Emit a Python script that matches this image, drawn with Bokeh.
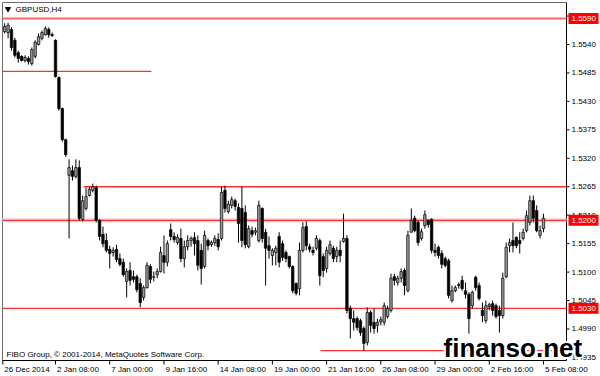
from bokeh.plotting import figure
from bokeh.core.properties import value
from bokeh.embed import file_html
from bokeh.resources import INLINE

# ---- data: GBPUSD H4 candles (bar index 0..159) ----
opens = [1.5565,1.5563,1.5569,1.5548,1.5524,1.5517,1.5509,1.5513,1.5503,1.5517,
         1.5540,1.5552,1.5559,1.5569,1.5559,1.5548,1.5476,1.5416,1.5356,1.5287,
         1.5296,1.5285,1.5302,1.5202,1.5223,1.5248,1.5258,1.5263,1.5200,1.5173,
         1.5161,1.5144,1.5138,1.5144,1.5126,1.5119,1.5082,1.5103,1.5091,1.5091,
         1.5078,1.5051,1.5070,1.5111,1.5090,1.5095,1.5101,1.5132,1.5119,1.5182,
         1.5169,1.5157,1.5165,1.5126,1.5149,1.5161,1.5167,1.5161,1.5142,1.5111,
         1.5161,1.5153,1.5157,1.5163,1.5165,1.5258,1.5217,1.5229,1.5238,1.5225,
         1.5223,1.5215,1.5149,1.5180,1.5177,1.5161,1.5223,1.5177,1.5151,1.5132,
         1.5138,1.5169,1.5155,1.5138,1.5130,1.5111,1.5078,1.5068,1.5142,1.5188,
         1.5149,1.5142,1.5146,1.5161,1.5130,1.5107,1.5136,1.5146,1.5130,1.5142,
         1.5159,1.5165,1.5030,1.5010,1.5010,1.5006,1.4991,1.4964,1.5022,1.5003,
         1.4997,1.5004,1.5003,1.5014,1.5026,1.5091,1.5080,1.5088,1.5103,1.5064,
         1.5177,1.5204,1.5196,1.5165,1.5190,1.5200,1.5202,1.5142,1.5148,1.5136,
         1.5126,1.5122,1.5045,1.5064,1.5074,1.5084,1.5064,1.5057,1.5035,1.5090,
         1.5074,1.5026,1.5006,1.5033,1.5039,1.5035,1.5026,1.5016,1.5091,1.5151,
         1.5161,1.5167,1.5161,1.5165,1.5180,1.5196,1.5238,1.5219,1.5171,1.5184]
highs = [1.5581,1.5582,1.5573,1.5553,1.5528,1.5519,1.5519,1.5517,1.5534,1.5548,
         1.5561,1.5567,1.5575,1.5573,1.5563,1.5550,1.5478,1.5418,1.5358,1.5318,
         1.5306,1.5318,1.5316,1.5248,1.5263,1.5265,1.5271,1.5267,1.5202,1.5188,
         1.5175,1.5151,1.5148,1.5153,1.5136,1.5126,1.5107,1.5119,1.5103,1.5095,
         1.5088,1.5074,1.5119,1.5115,1.5101,1.5107,1.5149,1.5171,1.5161,1.5194,
         1.5177,1.5173,1.5184,1.5161,1.5171,1.5169,1.5177,1.5171,1.5155,1.5180,
         1.5165,1.5161,1.5171,1.5175,1.5265,1.5267,1.5238,1.5246,1.5242,1.5233,
         1.5265,1.5229,1.5190,1.5188,1.5186,1.5238,1.5225,1.5184,1.5169,1.5146,
         1.5151,1.5177,1.5161,1.5142,1.5132,1.5113,1.5080,1.5157,1.5196,1.5198,
         1.5155,1.5149,1.5171,1.5165,1.5136,1.5149,1.5161,1.5151,1.5149,1.5161,
         1.5213,1.5171,1.5035,1.5026,1.5014,1.5010,1.4995,1.5032,1.5026,1.5030,
         1.5010,1.5014,1.5041,1.5035,1.5097,1.5097,1.5093,1.5107,1.5107,1.5180,
         1.5223,1.5209,1.5200,1.5184,1.5219,1.5202,1.5204,1.5155,1.5151,1.5142,
         1.5130,1.5126,1.5074,1.5074,1.5080,1.5093,1.5080,1.5061,1.5064,1.5093,
         1.5080,1.5041,1.5045,1.5041,1.5045,1.5039,1.5035,1.5099,1.5157,1.5165,
         1.5196,1.5169,1.5177,1.5184,1.5219,1.5248,1.5248,1.5229,1.5190,1.5213]
lows = [1.5561,1.5552,1.5528,1.5515,1.5505,1.5507,1.5505,1.5501,1.5499,1.5513,
        1.5538,1.5548,1.5557,1.5553,1.5555,1.5476,1.5412,1.5352,1.5323,1.5165,
        1.5277,1.5281,1.5200,1.5198,1.5219,1.5246,1.5254,1.5196,1.5161,1.5148,
        1.5138,1.5107,1.5130,1.5119,1.5111,1.5091,1.5051,1.5074,1.5080,1.5061,
        1.5032,1.5045,1.5068,1.5078,1.5082,1.5088,1.5099,1.5097,1.5111,1.5161,
        1.5157,1.5153,1.5119,1.5109,1.5142,1.5149,1.5132,1.5103,1.5076,1.5107,
        1.5142,1.5149,1.5151,1.5142,1.5161,1.5215,1.5213,1.5223,1.5219,1.5157,
        1.5148,1.5146,1.5146,1.5167,1.5171,1.5157,1.5157,1.5074,1.5126,1.5113,
        1.5113,1.5109,1.5122,1.5119,1.5107,1.5059,1.5055,1.5055,1.5138,1.5142,
        1.5138,1.5132,1.5142,1.5074,1.5090,1.5099,1.5132,1.5119,1.5119,1.5119,
        1.5157,1.5020,1.4972,1.4987,1.4987,1.4977,1.4948,1.4958,1.4983,1.4981,
        1.4983,1.4997,1.4997,1.5010,1.5022,1.5074,1.5074,1.5080,1.5055,1.5061,
        1.5177,1.5177,1.5151,1.5161,1.5184,1.5186,1.5136,1.5130,1.5126,1.5107,
        1.5109,1.5049,1.5041,1.5061,1.5068,1.5064,1.5049,1.4981,1.5030,1.5064,
        1.5045,1.5003,1.5001,1.5026,1.5016,1.5010,1.4983,1.5010,1.5088,1.5138,
        1.5138,1.5146,1.5136,1.5161,1.5177,1.5190,1.5196,1.5177,1.5165,1.5177]
closes = [1.5575,1.5577,1.5534,1.5519,1.5513,1.5509,1.5515,1.5507,1.5530,1.5544,
          1.5555,1.5563,1.5571,1.5559,1.5557,1.5478,1.5416,1.5356,1.5327,1.5302,
          1.5285,1.5302,1.5204,1.5238,1.5246,1.5260,1.5265,1.5200,1.5169,1.5155,
          1.5142,1.5136,1.5142,1.5124,1.5115,1.5095,1.5101,1.5084,1.5086,1.5066,
          1.5041,1.5070,1.5113,1.5086,1.5091,1.5101,1.5138,1.5119,1.5155,1.5169,
          1.5163,1.5167,1.5126,1.5149,1.5161,1.5165,1.5155,1.5113,1.5107,1.5171,
          1.5151,1.5157,1.5165,1.5149,1.5254,1.5223,1.5231,1.5240,1.5227,1.5194,
          1.5161,1.5153,1.5184,1.5173,1.5180,1.5229,1.5165,1.5146,1.5142,1.5142,
          1.5146,1.5119,1.5128,1.5126,1.5111,1.5064,1.5059,1.5142,1.5186,1.5151,
          1.5144,1.5138,1.5165,1.5093,1.5103,1.5142,1.5153,1.5126,1.5142,1.5132,
          1.5165,1.5026,1.5010,1.5003,1.4993,1.4983,1.4962,1.5022,1.4997,1.4991,
          1.5003,1.5008,1.5035,1.5030,1.5088,1.5084,1.5088,1.5101,1.5074,1.5171,
          1.5200,1.5180,1.5157,1.5178,1.5211,1.5192,1.5142,1.5138,1.5132,1.5115,
          1.5113,1.5055,1.5064,1.5070,1.5076,1.5068,1.5057,1.5010,1.5061,1.5070,
          1.5049,1.5016,1.5035,1.5037,1.5026,1.5014,1.5016,1.5088,1.5148,1.5157,
          1.5151,1.5151,1.5155,1.5177,1.5209,1.5238,1.5204,1.5180,1.5180,1.5204]

# time axis labels (bar index of each label)
time_tick_bars = [-0.55, 15, 31, 47, 63, 79, 95, 111, 127, 143, 159]
time_tick_labels = ["26 Dec 2014", "2 Jan 08:00", "7 Jan 00:00", "9 Jan 16:00",
                    "14 Jan 08:00", "19 Jan 00:00", "21 Jan 16:00", "26 Jan 08:00",
                    "29 Jan 00:00", "2 Feb 16:00", "5 Feb 08:00"]
price_ticks = [1.4935, 1.4990, 1.5045, 1.5100, 1.5155, 1.5210, 1.5265,
               1.5320, 1.5375, 1.5430, 1.5485, 1.5540, 1.5595]

# horizontal levels drawn on the chart (price, first bar, last bar)
level_prices = [1.5590, 1.5488, 1.5265, 1.5200, 1.5030, 1.4948]
level_start_bar = [-0.65, -0.65, 23.3, -0.65, -0.65, 93.2]
level_end_bar = [165.8, 43.3, 165.8, 165.8, 165.8, 165.8]
boxed_levels = [1.5590, 1.5200, 1.5030]

# chart window (price pane) in data units and the pixel sizes of the pane
X0, X1 = -0.65, 165.8
Y0, Y1 = 1.49291, 1.56211
PANE_W, PANE_H = 564, 358
PXX = (X1 - X0) / PANE_W
PXY = (Y1 - Y0) / PANE_H
FONT = value("Liberation Sans")

p = figure(width=600, height=376,
           x_range=(X0 - 2 * PXX, X1 + 34 * PXX),
           y_range=(Y0 - 16 * PXY, Y1 + 2 * PXY),
           output_backend="svg", toolbar_location=None,
           x_axis_location=None, y_axis_location=None,
           min_border=0, min_border_left=0, min_border_right=0,
           min_border_top=0, min_border_bottom=0)
p.background_fill_color = "white"
p.border_fill_color = "white"
p.outline_line_color = None
for g in p.grid:
    g.visible = False

# pane frame: left/top border grey, price & time axis lines black
p.segment(x0=[X0, X0], y0=[Y0, Y1], x1=[X0, X1], y1=[Y1, Y1], line_color="#6a6a6a", line_width=1)
p.segment(x0=[X1, X0], y0=[Y1, Y0], x1=[X1, X1], y1=[Y0, Y0], line_color="black", line_width=1)

# levels
for lv, a, b in zip(level_prices, level_start_bar, level_end_bar):
    if lv == 1.5200:
        p.segment(x0=[a], y0=[lv], x1=[b], y1=[lv], line_color="#f2d6d6", line_width=4)
    w = 2 if lv == 1.5590 else 1.3
    col = "#ff6a6a" if lv == 1.5590 else "#ff3030"
    p.segment(x0=[a], y0=[lv], x1=[b], y1=[lv], line_color=col, line_width=w)

# candles
idx = list(range(len(opens)))
p.segment(x0=idx, y0=lows, x1=idx, y1=highs, line_color="black", line_width=1)
bx, bt, bb = [], [], []
sx, st, sb = [], [], []
for i, o, c in zip(idx, opens, closes):
    if c >= o:
        bx.append(i); bt.append(c); bb.append(o)
    else:
        sx.append(i); st.append(o); sb.append(c)
p.vbar(x=bx, top=bt, bottom=bb, width=0.72, fill_color="#9a9a9a", line_color="black", line_width=0.7)
p.vbar(x=sx, top=st, bottom=sb, width=0.72, fill_color="black", line_color="black", line_width=0.7)

# price scale (right): tick marks and labels
n = len(price_ticks)
p.segment(x0=[X1] * n, y0=price_ticks, x1=[X1 + 3 * PXX] * n, y1=price_ticks,
          line_color="black", line_width=1)
p.text(x=[X1 + 5 * PXX] * n, y=price_ticks, text=[f"{v:.4f}" for v in price_ticks],
       text_font=FONT, text_font_size="8px", text_color="black",
       text_align="left", text_baseline="middle")

# red price boxes on the scale
m = len(boxed_levels)
p.quad(left=[X1 + 2 * PXX] * m, right=[X1 + 32 * PXX] * m,
       top=[v + 5.5 * PXY for v in boxed_levels], bottom=[v - 5.5 * PXY for v in boxed_levels],
       fill_color="#ff0000", line_color=None)
p.text(x=[X1 + 5 * PXX] * m, y=boxed_levels, text=[f"{v:.4f}" for v in boxed_levels],
       text_font=FONT, text_font_size="8px", text_color="white",
       text_align="left", text_baseline="middle")

# time scale (bottom): tick marks and left-aligned labels
k = len(time_tick_bars)
p.segment(x0=time_tick_bars, y0=[Y0] * k, x1=time_tick_bars, y1=[Y0 - 4 * PXY] * k,
          line_color="black", line_width=1)
p.text(x=[b + 1.5 * PXX for b in time_tick_bars], y=[Y0 - 8.5 * PXY] * k, text=time_tick_labels,
       text_font=FONT, text_font_size="8px", text_color="black",
       text_align="left", text_baseline="middle")

# header and footer
p.scatter(x=[X0 + 5.5 * PXX], y=[Y1 - 6.5 * PXY], marker="inverted_triangle", size=5,
          fill_color="black", line_color="black")
p.text(x=[X0 + 13 * PXX], y=[Y1 - 6.5 * PXY], text=["GBPUSD,H4"], text_font=FONT,
       text_font_size="8px", text_color="black", text_align="left", text_baseline="middle")
p.text(x=[X0 + 4 * PXX], y=[Y0 + 6 * PXY], text=["FIBO Group, \u00a9 2001-2014, MetaQuotes Software Corp."],
       text_font=FONT, text_font_size="8px", text_color="black",
       text_align="left", text_baseline="middle")

# watermark (white halo under black bold text)
wm_x, wm_y = 129.5, Y0 + 13 * PXY
for dx, dy in [(-2, 0), (2, 0), (0, -2), (0, 2), (-1.5, -1.5), (1.5, 1.5), (-1.5, 1.5), (1.5, -1.5)]:
    p.text(x=[wm_x], y=[wm_y], text=["finanso.net"], x_offset=dx, y_offset=dy,
           text_font=FONT, text_font_style="bold", text_font_size="26px", text_color="white",
           text_align="left", text_baseline="middle")
p.text(x=[wm_x], y=[wm_y], text=["finanso.net"], text_font=FONT, text_font_style="bold",
       text_font_size="26px", text_color="black", text_align="left", text_baseline="middle")

open("out.html", "w").write(file_html(p, INLINE))
